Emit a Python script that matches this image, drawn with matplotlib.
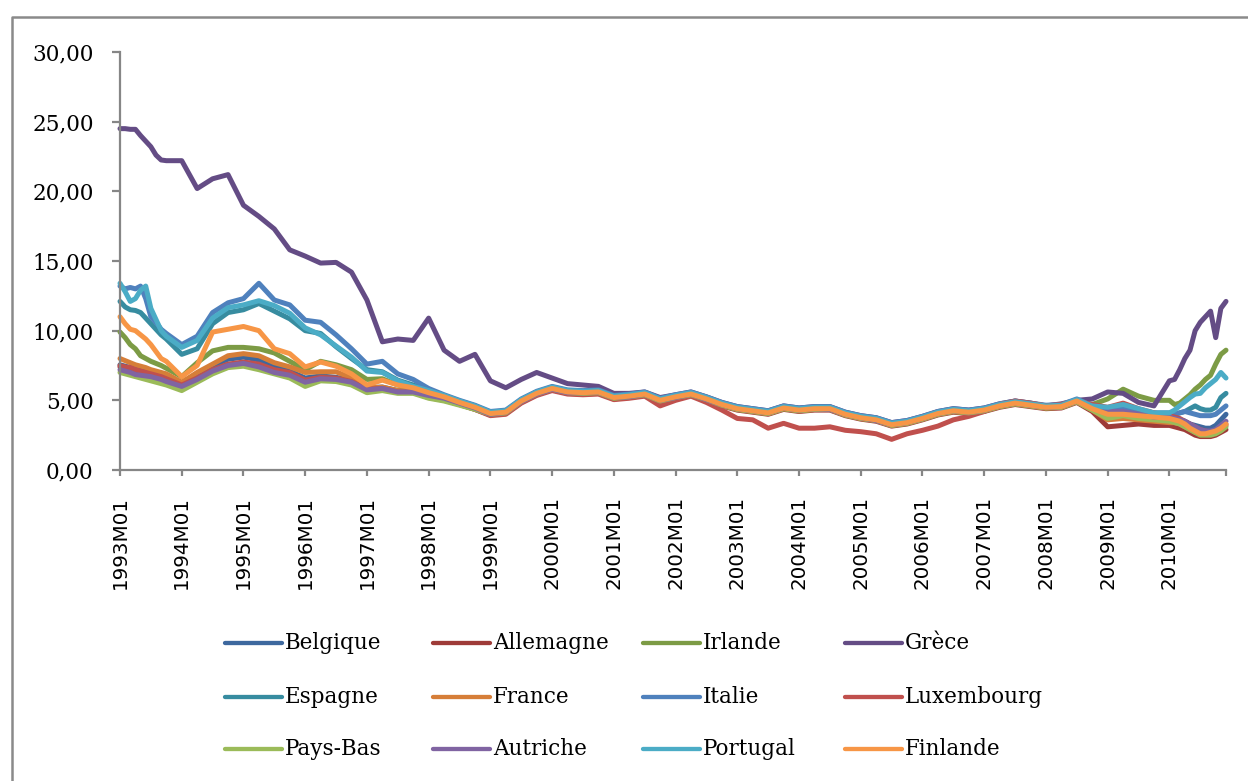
import matplotlib
matplotlib.use("Agg")
import matplotlib.pyplot as plt
from matplotlib.lines import Line2D

# x = month number counted from 1993M01 (= 0)
# monthly for the start of 1993, quarterly after that, monthly again in 2010
months = list(range(0, 9)) + list(range(9, 204, 3)) + list(range(204, 216))
year_ticks = list(range(0, 216, 12))
year_labels = ["1993M01", "1994M01", "1995M01", "1996M01", "1997M01", "1998M01",
               "1999M01", "2000M01", "2001M01", "2002M01", "2003M01", "2004M01",
               "2005M01", "2006M01", "2007M01", "2008M01", "2009M01", "2010M01"]

belgique = [
    7.55, 7.45, 7.35, 7.25, 7.15, 7.05, 6.95, 6.85, 6.75, 6.6,   # 1993
    6.2, 6.8, 7.5, 7.95,       # 1994
    8.1, 7.9, 7.4, 7.1,        # 1995
    6.6, 6.75, 6.65, 6.45,     # 1996
    5.9, 5.95, 5.7, 5.7,       # 1997
    5.4, 5.15, 4.8, 4.5,       # 1998
    4.1, 4.2, 5.0, 5.55,       # 1999
    5.9, 5.65, 5.6, 5.65,      # 2000
    5.25, 5.35, 5.5, 5.05,     # 2001
    5.3, 5.5, 5.15, 4.75,      # 2002
    4.45, 4.3, 4.15, 4.5,      # 2003
    4.35, 4.45, 4.45, 4.05,    # 2004
    3.8, 3.65, 3.3, 3.45,      # 2005
    3.75, 4.1, 4.3, 4.2,       # 2006
    4.35, 4.65, 4.85, 4.7,     # 2007
    4.55, 4.6, 5.0, 4.5,       # 2008
    4.1, 4.0, 3.9, 3.7,        # 2009
    3.6, 3.6, 3.6, 3.5, 3.3, 3.2, 3.1, 3.0, 3.0, 3.2, 3.6, 4.0,  # 2010
]
allemagne = [
    7.4, 7.3, 7.2, 7.0, 6.9, 6.8, 6.7, 6.5, 6.4, 6.3,
    5.9, 6.4, 7.0, 7.4,
    7.6, 7.4, 7.0, 6.8,
    6.2, 6.5, 6.4, 6.2,
    5.7, 5.8, 5.6, 5.55,
    5.2, 5.0, 4.7, 4.35,
    3.95, 4.05, 4.85, 5.4,
    5.75, 5.5, 5.45, 5.5,
    5.1, 5.2, 5.35, 4.9,
    5.15, 5.35, 5.0, 4.6,
    4.3, 4.15, 4.0, 4.35,
    4.2, 4.3, 4.3, 3.9,
    3.65, 3.5, 3.15, 3.3,
    3.6, 3.95, 4.15, 4.05,
    4.2, 4.5, 4.7, 4.55,
    4.4, 4.45, 4.85, 4.2,
    3.1, 3.2, 3.3, 3.2,
    3.2, 3.1, 3.0, 2.9, 2.7, 2.5, 2.4, 2.4, 2.4, 2.5, 2.7, 2.9,
]
irlande = [
    9.9, 9.5, 9.0, 8.7, 8.2, 8.0, 7.8, 7.65, 7.5, 7.3,
    6.7, 7.7, 8.55, 8.8,
    8.8, 8.7, 8.4, 7.8,
    7.2, 7.8, 7.55, 7.2,
    6.5, 6.55, 6.1, 5.85,
    5.5, 5.2, 4.8, 4.45,
    4.05, 4.2, 4.95, 5.5,
    5.85, 5.6, 5.6, 5.6,
    5.25, 5.3, 5.45, 5.05,
    5.25, 5.45, 5.1, 4.75,
    4.45, 4.25, 4.1, 4.45,
    4.3, 4.4, 4.4, 4.0,
    3.75, 3.6, 3.25, 3.4,
    3.7, 4.05, 4.25, 4.15,
    4.3, 4.6, 4.8, 4.65,
    4.5, 4.55, 4.95, 4.7,
    5.1, 5.8, 5.3, 5.0,
    5.0, 4.7, 4.8, 5.1, 5.4, 5.8, 6.1, 6.5, 6.8, 7.6, 8.3, 8.6,
]
grece = [
    24.5, 24.5, 24.45, 24.45, 24.0, 23.6, 23.2, 22.6, 22.25, 22.2,
    22.2, 20.2, 20.9, 21.2,
    19.0, 18.2, 17.3, 15.8,
    15.35, 14.85, 14.9, 14.2,
    12.2, 9.2, 9.4, 9.3,
    10.9, 8.6, 7.8, 8.3,
    6.4, 5.9, 6.5, 7.0,
    6.6, 6.2, 6.1, 6.0,
    5.5, 5.5, 5.6, 5.2,
    5.4, 5.6, 5.25, 4.85,
    4.55, 4.4, 4.25, 4.6,
    4.45, 4.55, 4.55, 4.15,
    3.9, 3.75, 3.4, 3.55,
    3.85, 4.2, 4.4, 4.3,
    4.45, 4.75, 4.95, 4.8,
    4.6, 4.75, 5.0, 5.1,
    5.6, 5.5, 4.85, 4.6,
    6.4, 6.5, 7.2, 8.0, 8.6, 10.0, 10.6, 11.0, 11.4, 9.5, 11.6, 12.1,
]
espagne = [
    12.1, 11.7, 11.5, 11.45, 11.3, 10.9, 10.5, 10.1, 9.7, 9.4,
    8.3, 8.7, 10.5, 11.3,
    11.5, 11.95, 11.4, 10.85,
    10.0, 9.8, 8.85, 8.0,
    7.2, 7.05, 6.45, 6.1,
    5.75, 5.3, 4.95, 4.6,
    4.1, 4.2, 5.0, 5.55,
    5.9, 5.65, 5.6, 5.65,
    5.25, 5.35, 5.5, 5.05,
    5.3, 5.5, 5.15, 4.75,
    4.45, 4.3, 4.15, 4.5,
    4.35, 4.45, 4.45, 4.05,
    3.8, 3.65, 3.3, 3.45,
    3.75, 4.1, 4.3, 4.2,
    4.35, 4.65, 4.85, 4.7,
    4.55, 4.6, 5.0, 4.5,
    4.2, 4.2, 4.0, 4.0,
    4.0, 4.0, 4.1, 4.2, 4.4, 4.6, 4.4, 4.3, 4.3, 4.5, 5.2, 5.5,
]
france = [
    8.0, 7.85, 7.7, 7.55, 7.45, 7.35, 7.2, 7.1, 7.0, 6.9,
    6.3, 7.0, 7.6, 8.2,
    8.35, 8.2, 7.7, 7.4,
    7.0, 7.05, 7.05, 6.6,
    5.9, 5.95, 5.7, 5.65,
    5.35, 5.1, 4.75, 4.45,
    4.0, 4.1, 4.9, 5.45,
    5.8, 5.55, 5.5, 5.55,
    5.15, 5.25, 5.4, 4.95,
    5.2, 5.4, 5.05, 4.65,
    4.35, 4.2, 4.05, 4.4,
    4.25, 4.35, 4.35, 3.95,
    3.7, 3.55, 3.2, 3.35,
    3.65, 4.0, 4.2, 4.1,
    4.25, 4.55, 4.75, 4.6,
    4.45, 4.5, 4.9, 4.3,
    3.6, 3.7, 3.6, 3.5,
    3.4, 3.4, 3.3, 3.1, 2.9, 2.7, 2.6, 2.6, 2.6, 2.7, 3.0, 3.3,
]
italie = [
    13.2, 13.0, 13.1, 13.0, 13.2, 12.3, 11.0, 10.6, 10.1, 9.8,
    9.0, 9.6, 11.3, 12.0,
    12.3, 13.4, 12.2, 11.85,
    10.75, 10.6, 9.7, 8.7,
    7.6, 7.8, 6.9, 6.5,
    5.85, 5.4, 5.0, 4.65,
    4.2, 4.3, 5.1, 5.65,
    6.0, 5.75, 5.7, 5.75,
    5.35, 5.45, 5.6, 5.15,
    5.4, 5.6, 5.25, 4.85,
    4.55, 4.4, 4.25, 4.6,
    4.45, 4.55, 4.55, 4.15,
    3.9, 3.75, 3.4, 3.55,
    3.85, 4.2, 4.4, 4.3,
    4.45, 4.75, 4.95, 4.8,
    4.65, 4.7, 5.1, 4.6,
    4.4, 4.4, 4.3, 4.1,
    4.1, 4.0, 4.1, 4.2, 4.1, 4.0, 3.9, 3.9, 3.9, 4.0, 4.3, 4.6,
]
luxembourg = [
    7.5, 7.4, 7.35, 7.2, 7.1, 7.0, 6.9, 6.8, 6.7, 6.55,
    6.1, 6.6, 7.2, 7.6,
    7.75, 7.6, 7.2, 7.0,
    6.45, 6.65, 6.6, 6.35,
    5.8, 5.85, 5.6, 5.6,
    5.25, 5.05, 4.7, 4.35,
    3.9, 4.0, 4.8, 5.35,
    5.7, 5.45, 5.4, 5.45,
    5.05, 5.15, 5.3, 4.6,
    5.0, 5.3, 4.85, 4.3,
    3.7, 3.6, 3.0, 3.35,
    3.0, 3.0, 3.1, 2.85,
    2.75, 2.6, 2.2, 2.6,
    2.85, 3.15, 3.6, 3.85,
    4.2, 4.7, 4.95, 4.8,
    4.6, 4.7, 4.95, 4.7,
    4.5, 4.8, 4.4, 4.1,
    3.9, 3.8, 3.7, 3.5, 3.3, 3.1, 2.9, 2.8, 2.7, 2.8, 3.0, 3.2,
]
pays_bas = [
    7.0, 6.9, 6.8, 6.7, 6.6, 6.5, 6.4, 6.3, 6.2, 6.1,
    5.7, 6.3, 6.9, 7.35,
    7.45, 7.2, 6.9, 6.6,
    6.0, 6.4, 6.35, 6.1,
    5.55, 5.7, 5.5, 5.5,
    5.15, 4.95, 4.65, 4.35,
    4.0, 4.1, 4.9, 5.45,
    5.8, 5.55, 5.5, 5.55,
    5.15, 5.25, 5.4, 4.95,
    5.2, 5.4, 5.05, 4.65,
    4.35, 4.2, 4.05, 4.4,
    4.25, 4.35, 4.35, 3.95,
    3.7, 3.55, 3.2, 3.35,
    3.65, 4.0, 4.2, 4.1,
    4.25, 4.55, 4.75, 4.6,
    4.45, 4.5, 4.9, 4.3,
    3.7, 3.9, 3.7, 3.6,
    3.5, 3.4, 3.3, 3.1, 2.9, 2.7, 2.5, 2.5, 2.5, 2.6, 2.8, 3.1,
]
autriche = [
    7.2, 7.1, 7.0, 6.85, 6.8, 6.75, 6.7, 6.6, 6.5, 6.35,
    6.0, 6.5, 7.1, 7.5,
    7.65, 7.4, 7.0, 6.8,
    6.3, 6.55, 6.5, 6.3,
    5.75, 5.85, 5.6, 5.6,
    5.35, 5.15, 4.8, 4.45,
    4.0, 4.15, 4.9, 5.45,
    5.8, 5.55, 5.55, 5.6,
    5.2, 5.25, 5.45, 5.0,
    5.2, 5.45, 5.05, 4.7,
    4.4, 4.25, 4.1, 4.45,
    4.3, 4.4, 4.35, 4.0,
    3.75, 3.55, 3.25, 3.4,
    3.7, 4.05, 4.25, 4.15,
    4.3, 4.6, 4.8, 4.65,
    4.5, 4.55, 4.95, 4.5,
    4.2, 4.2, 4.0, 3.8,
    3.8, 3.7, 3.6, 3.5, 3.3, 3.1, 2.9, 2.8, 2.8, 2.9, 3.2, 3.5,
]
portugal = [
    13.4, 12.8, 12.1, 12.3, 12.9, 13.2, 11.6, 10.8, 10.0, 9.6,
    8.8, 9.3, 10.9, 11.65,
    11.85, 12.15, 11.8, 11.25,
    10.2, 9.7, 8.9, 8.1,
    7.1, 7.0, 6.4, 6.0,
    5.7, 5.35, 4.95, 4.6,
    4.15, 4.25, 5.05, 5.6,
    5.95, 5.7, 5.65, 5.7,
    5.3, 5.4, 5.55, 5.1,
    5.35, 5.55, 5.2, 4.8,
    4.5, 4.35, 4.2, 4.55,
    4.4, 4.5, 4.5, 4.1,
    3.85, 3.7, 3.35, 3.5,
    3.8, 4.15, 4.35, 4.25,
    4.4, 4.7, 4.9, 4.75,
    4.6, 4.65, 5.05, 4.6,
    4.5, 4.7, 4.4, 4.1,
    4.1, 4.3, 4.6, 4.9, 5.2, 5.45, 5.5, 5.9, 6.2, 6.5, 7.0, 6.6,
]
finlande = [
    11.0, 10.5, 10.1, 10.0, 9.7, 9.4, 9.0, 8.5, 8.0, 7.8,
    6.7, 7.5, 9.9, 10.1,
    10.3, 10.0, 8.7, 8.35,
    7.4, 7.75, 7.45, 6.9,
    6.1, 6.45, 6.1, 5.9,
    5.55, 5.25, 4.85, 4.5,
    4.05, 4.15, 4.95, 5.5,
    5.85, 5.6, 5.55, 5.6,
    5.2, 5.3, 5.45, 5.0,
    5.25, 5.45, 5.1, 4.7,
    4.4, 4.25, 4.1, 4.45,
    4.3, 4.4, 4.4, 4.0,
    3.75, 3.6, 3.25, 3.4,
    3.7, 4.05, 4.25, 4.15,
    4.3, 4.6, 4.8, 4.65,
    4.5, 4.55, 4.95, 4.4,
    4.0, 4.0, 3.9, 3.8,
    3.7, 3.6, 3.5, 3.3, 3.0, 2.8, 2.6, 2.6, 2.7, 2.8, 3.0, 3.3,
]

names = ["Belgique", "Allemagne", "Irlande", "Grèce",
         "Espagne", "France", "Italie", "Luxembourg",
         "Pays-Bas", "Autriche", "Portugal", "Finlande"]
series = [belgique, allemagne, irlande, grece, espagne, france,
          italie, luxembourg, pays_bas, autriche, portugal, finlande]
colors = ["#3D689E", "#9E3B38", "#7C9B45", "#644C85", "#378CA0", "#D67E38",
          "#4F81BD", "#C0504D", "#9BBB59", "#8064A2", "#4BACC6", "#F79646"]

W, H = 1248, 781
fig = plt.figure(figsize=(W / 100, H / 100), dpi=100)
ax = fig.add_axes([120 / W, 1 - 470 / H, (1226 - 120) / W, (470 - 52) / H])

for vals, col in zip(series, colors):
    ax.plot(months, vals, color=col, lw=3.6, solid_joinstyle="round",
            solid_capstyle="round", clip_on=False)

ax.set_xlim(0, 215)
ax.set_ylim(0, 30)

grey = "#868686"
for side in ["top", "right"]:
    ax.spines[side].set_visible(False)
for side in ["left", "bottom"]:
    ax.spines[side].set_color(grey)
    ax.spines[side].set_linewidth(1.6)

yt = [0, 5, 10, 15, 20, 25, 30]
ax.set_yticks(yt)
ax.set_yticklabels([f"{v:.2f}".replace(".", ",") for v in yt],
                   family="DejaVu Serif", fontsize=15.5)
ax.tick_params(axis="y", direction="out", length=6, width=1.6, color=grey, pad=13)

ax.set_xticks(year_ticks)
ax.set_xticklabels(year_labels, rotation=90, family="DejaVu Sans", fontsize=14.3)
ax.set_xticks([215], minor=True)
ax.tick_params(axis="x", which="both", direction="out", length=4.5, width=1.6,
               color=grey, pad=14)

# legend laid out like the spreadsheet one: 4 columns, 3 rows
col_x = [225, 433, 643, 845]
row_y = [643, 697, 749]
for i, (name, col) in enumerate(zip(names, colors)):
    x0 = col_x[i % 4]
    y0 = row_y[i // 4]
    fig.add_artist(Line2D([x0 / W, (x0 + 57) / W], [1 - y0 / H, 1 - y0 / H],
                          color=col, lw=3.1, solid_capstyle="round",
                          transform=fig.transFigure))
    fig.text((x0 + 60) / W, 1 - y0 / H, name, family="DejaVu Serif",
             fontsize=15.5, va="center", ha="left")

# outer chart frame (top and left edges visible)
fig.add_artist(Line2D([12 / W, 12 / W, 1.0], [0.0, 1 - 17 / H, 1 - 17 / H],
                      color="#8A8A8A", lw=1.8, transform=fig.transFigure))

fig.savefig("out.png", dpi=100)
